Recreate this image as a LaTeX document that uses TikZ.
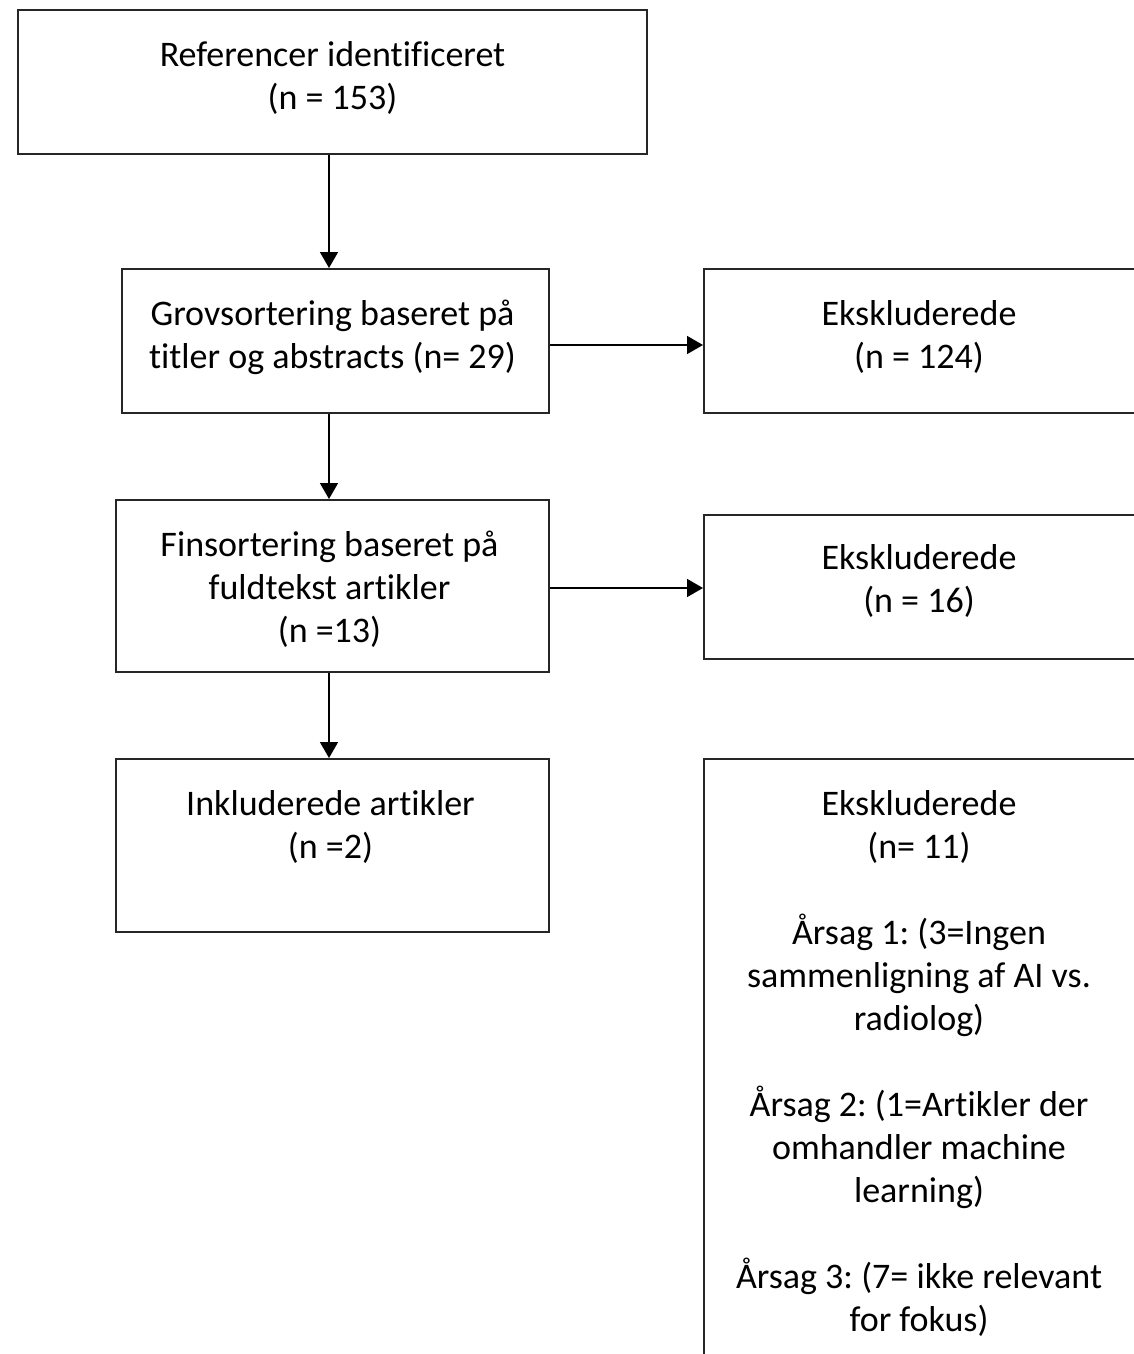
\documentclass[tikz,border=0pt]{standalone}
\usepackage{fontspec}
\setmainfont[Ligatures=NoCommon]{Carlito}
\frenchspacing
\usetikzlibrary{arrows.meta,calc}
\begin{document}
\begin{tikzpicture}[x=0.5pt,y=-0.5pt,
  box/.style={draw=black!85,line width=1pt,rectangle,inner sep=0pt,align=center,
    font=\fontsize{18}{22}\selectfont},
  txt/.style={inner sep=0pt,align=center,font=\fontsize{18}{21.5}\selectfont},
  arr/.style={draw=black,line width=0.8pt,-{Triangle[length=8pt,width=9pt]}}]
\useasboundingbox (0,0) rectangle (1134,1354);
\clip (0,0) rectangle (1134,1354);
\coordinate (spine) at (329,0);
\node[box,minimum width=314.5pt,minimum height=72pt] (b1) at (332.5,82) {};
\node[txt,anchor=north] (b1t) at (332.5,41) {Referencer identificeret\\(n = 153)};
\node[box,minimum width=213.5pt,minimum height=72pt] (b2) at (335.5,341) {};
\node[txt,anchor=north] (b2t) at (332.5,300) {Grovsortering baseret på\\titler og abstracts (n= 29)};
\node[box,minimum width=216.5pt,minimum height=86pt] (b3) at (332.5,586) {};
\node[txt,anchor=north] (b3t) at (329.5,531) {Finsortering baseret på\\fuldtekst artikler\\(n =13)};
\node[box,minimum width=216.5pt,minimum height=86.5pt] (b4) at (332.5,845.5) {};
\node[txt,anchor=north] (b4t) at (330.5,790) {Inkluderede artikler\\(n =2)};
\node[box,minimum width=216pt,minimum height=72pt] (r1) at (920,341) {};
\node[txt,anchor=north] (r1t) at (919,300) {Ekskluderede\\(n = 124)};
\node[box,minimum width=216pt,minimum height=72pt] (r2) at (920,587) {};
\node[txt,anchor=north] (r2t) at (919,544) {Ekskluderede\\(n = 16)};
\node[box,minimum width=216pt,minimum height=300.5pt] (r3) at (920,1059.5) {};
\node[txt,anchor=north] (r3t) at (919,790)
  {Ekskluderede\\(n= 11)\\[21.5pt]
   Årsag 1: (3=Ingen\\sammenligning af AI vs.\\radiolog)\\[21.5pt]
   Årsag 2: (1=Artikler der\\omhandler machine\\learning)\\[21.5pt]
   Årsag 3: (7= ikke relevant\\for fokus)};
\draw[arr] (b1.south -| spine) -- (b2.north -| spine);
\draw[arr] (b2.south -| spine) -- (b3.north -| spine);
\draw[arr] (b3.south -| spine) -- (b4.north -| spine);
\draw[arr] ([yshift=-2pt]b2.east) -- ([yshift=-2pt]b2.east -| r1.west);
\draw[arr] ([yshift=-1pt]b3.east) -- ([yshift=-1pt]b3.east -| r2.west);
\end{tikzpicture}
\end{document}
